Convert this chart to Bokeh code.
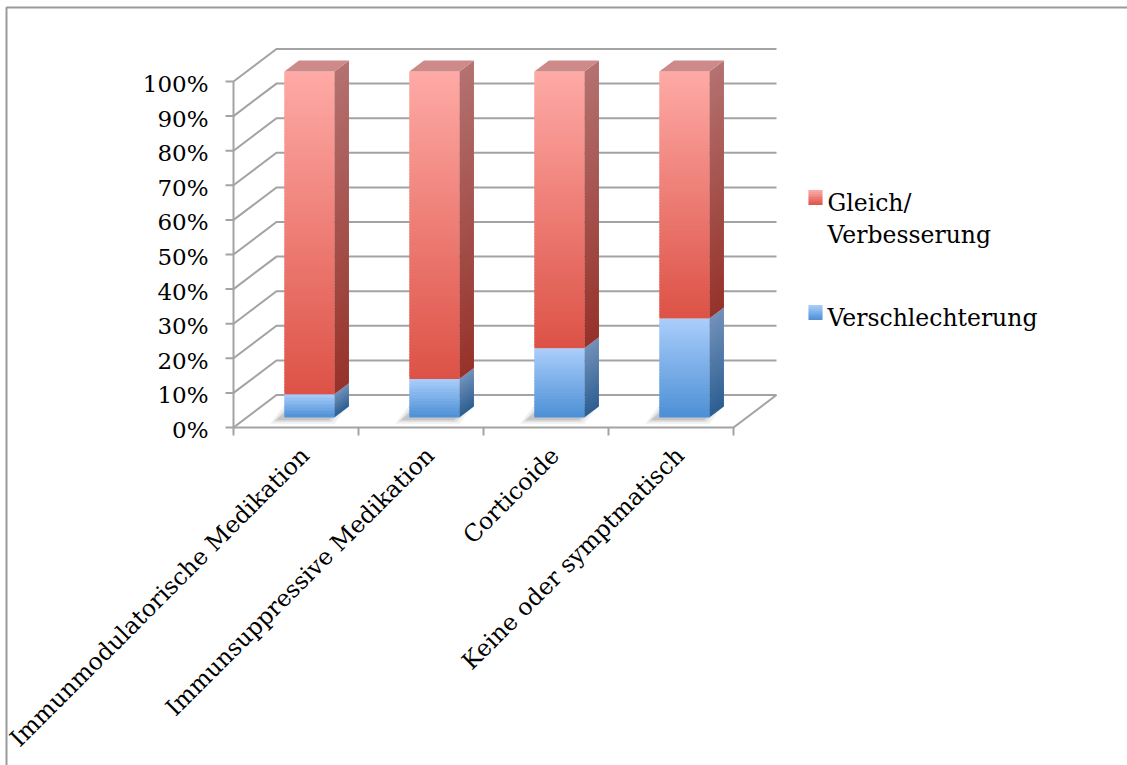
import numpy as np
from bokeh.plotting import figure
from bokeh.models import Range1d
from bokeh.core.properties import value
from bokeh.embed import file_html
from bokeh.resources import INLINE

# ---- data -------------------------------------------------------------
categories = [
    "Immunmodulatorische Medikation",
    "Immunsuppressive Medikation",
    "Corticoide",
    "Keine oder symptmatisch",
]
verschlechterung = [6.7, 11.1, 20.0, 28.6]          # %
gleich_verbesserung = [93.3, 88.9, 80.0, 71.4]      # %
series_labels = ["Gleich/\nVerbesserung", "Verschlechterung"]
y_ticks = [0, 10, 20, 30, 40, 50, 60, 70, 80, 90, 100]
y_tick_labels = ["0%", "10%", "20%", "30%", "40%", "50%", "60%", "70%", "80%", "90%", "100%"]

# ---- canvas / scale -----------------------------------------------------
W, H = 1127, 765
PX = 125.0          # pixels per category
PY = 3.46           # pixels per percent
OX, OY = 233, 427   # canvas pixel of (category 0, 0 %)


def sx(d):
    return d / PX


def sy(d):
    return d / PY


def at(px, py):
    """canvas pixel (from top-left) -> data coordinates"""
    return (px - OX) / PX, (OY - py) / PY


FONT = value("DejaVu Serif")
GRID = "#a3a3a3"

p = figure(
    width=W, height=H,
    x_range=Range1d(-OX / PX, (W - OX) / PX),
    y_range=Range1d(-(H - OY) / PY, OY / PY),
    min_border=0, toolbar_location=None, output_backend="svg",
    x_axis_location=None, y_axis_location=None,
)
p.grid.visible = False
p.outline_line_color = None
p.background_fill_color = "white"
p.border_fill_color = "white"

# chart-area border (top and left edges)
bx0, by0 = at(6, 7)
bx1, _ = at(W, 7)
_, by1 = at(6, H)
p.line([bx0, bx0, bx1], [by1, by0, by0], line_color="#9a9a9a", line_width=2)

# ---- 3-D walls ----------------------------------------------------------
n = len(categories)
DX, DY = sx(43), sy(32.5)      # depth vector, front plane -> back wall

wall_xs = [[0, DX, n + DX] for t in y_ticks]
wall_ys = [[t, t + DY, t + DY] for t in y_ticks]
p.multi_line(wall_xs, wall_ys, line_color=GRID, line_width=2, line_join="miter")

# floor front edge + right edge, value axis line
p.line([0, n, n + DX], [0, 0, DY], line_color=GRID, line_width=2, line_join="miter")
p.line([0, 0], [0, 100], line_color=GRID, line_width=2)

# tick marks
p.segment(x0=[0] * len(y_ticks), y0=y_ticks, x1=[-sx(8)] * len(y_ticks), y1=y_ticks,
          line_color=GRID, line_width=2)
cat_edges = list(range(n + 1))
p.segment(x0=cat_edges, y0=[0] * (n + 1), x1=cat_edges, y1=[-sy(8)] * (n + 1),
          line_color=GRID, line_width=2)

# value axis labels
p.text(x=[-sx(25)] * len(y_ticks), y=[t - sy(2.5) for t in y_ticks], text=y_tick_labels,
       text_align="right", text_baseline="middle", text_font=FONT,
       text_font_size="23px", text_color="black")

# category labels, rotated 45 degrees
p.text(x=[i + 0.5 + sx(9) for i in range(n)], y=[-sy(24)] * n, text=categories,
       angle=np.pi / 4, text_align="right", text_baseline="middle",
       text_font=FONT, text_font_size="23.5px", text_color="black")

# ---- bars ----------------------------------------------------------------
F0, F1 = 0.31, 0.65            # bar depth span (fraction of depth vector)
BAR_L, BAR_R = 0.3, 0.7        # bar span inside a category


def mix(c1, c2, t):
    r, g, b = (int(round(a + (b_ - a) * t)) for a, b_ in zip(c1, c2))
    return "#%02x%02x%02x" % (r, g, b)


RED = dict(front=((254, 170, 166), (221, 82, 70)),
           side=((180, 114, 112), (150, 50, 42)),
           top=(206, 138, 136))
BLUE = dict(front=((170, 206, 251), (76, 143, 213)),
            side=((114, 145, 186), (44, 94, 146)))

ox, oy = F0 * DX, F0 * DY
ddx, ddy = (F1 - F0) * DX, (F1 - F0) * DY

# soft floor shadow
sh_xs, sh_ys, sh_alpha = [], [], []
for i in range(n):
    xl, xr = i + BAR_L + ox, i + BAR_R + ox
    for k, grow in enumerate([7, 4, 1.5]):
        gx, gy = sx(grow), sy(grow * 0.6)
        sx0, sy0 = -sx(7), -sy(2)
        sh_xs.append([xl - gx + sx0, xr + gx + sx0, xr + ddx + gx + sx0, xl + ddx - gx + sx0])
        sh_ys.append([oy - gy + sy0, oy - gy + sy0, oy + ddy + gy + sy0, oy + ddy + gy + sy0])
        sh_alpha.append(0.10 + 0.05 * k)
p.patches(sh_xs, sh_ys, fill_color="#6a6a6a", fill_alpha=sh_alpha, line_color=None)

fq = dict(left=[], right=[], bottom=[], top=[], color=[])
side_xs, side_ys, side_col = [], [], []
top_xs, top_ys, top_col = [], [], []

for i in range(n):
    xl, xr = i + BAR_L + ox, i + BAR_R + ox
    segs = [(0.0, verschlechterung[i], BLUE),
            (verschlechterung[i], verschlechterung[i] + gleich_verbesserung[i], RED)]
    for lo, hi, pal in segs:
        steps = max(6, int((hi - lo) * PY / 3))
        eps = min(sy(1.2), (hi - lo) / steps)
        for s in range(steps):
            y0 = lo + (hi - lo) * s / steps
            y1 = min(hi, lo + (hi - lo) * (s + 1) / steps + eps)
            t = 1 - (s + 0.5) / steps      # 0 at top (light) .. 1 at bottom
            fq["left"].append(xl)
            fq["right"].append(xr)
            fq["bottom"].append(y0 + oy)
            fq["top"].append(y1 + oy)
            fq["color"].append(mix(*pal["front"], t))
            side_xs.append([xr, xr + ddx, xr + ddx, xr])
            side_ys.append([y0 + oy, y0 + oy + ddy, y1 + oy + ddy, y1 + oy])
            side_col.append(mix(*pal["side"], t))
    top = verschlechterung[i] + gleich_verbesserung[i]
    top_xs.append([xl, xr, xr + ddx, xl + ddx])
    top_ys.append([top + oy, top + oy, top + oy + ddy, top + oy + ddy])
    top_col.append(mix(RED["top"], RED["top"], 0))

p.patches(side_xs, side_ys, fill_color=side_col, line_color=None)
p.quad(left="left", right="right", bottom="bottom", top="top", fill_color="color",
       line_color=None, source=fq)
p.patches(top_xs, top_ys, fill_color=top_col, line_color=None)

# ---- legend ----------------------------------------------------------------
legend_rows = [(series_labels[0], RED, 197), (series_labels[1], BLUE, 312)]
lq = dict(left=[], right=[], bottom=[], top=[], color=[])
for label, pal, cy in legend_rows:
    kx0, ky_top = at(808, cy - 7.5)
    kx1, ky_bot = at(822, cy + 7.5)
    steps = 8
    for s in range(steps):
        y0 = ky_bot + (ky_top - ky_bot) * s / steps
        y1 = ky_bot + (ky_top - ky_bot) * (s + 1) / steps + sy(0.5)
        lq["left"].append(kx0)
        lq["right"].append(kx1)
        lq["bottom"].append(y0)
        lq["top"].append(min(y1, ky_top))
        lq["color"].append(mix(*pal["front"], 1 - (s + 0.5) / steps))
    for j, line in enumerate(label.split("\n")):
        tx, ty = at(827, cy + 5 + 32 * j)
        p.text(x=[tx], y=[ty], text=[line], text_align="left", text_baseline="middle",
               text_font=FONT, text_font_size="23.5px", text_color="black")
p.quad(left="left", right="right", bottom="bottom", top="top", fill_color="color",
       line_color=None, source=lq)

open("out.html", "w").write(file_html(p, INLINE))
